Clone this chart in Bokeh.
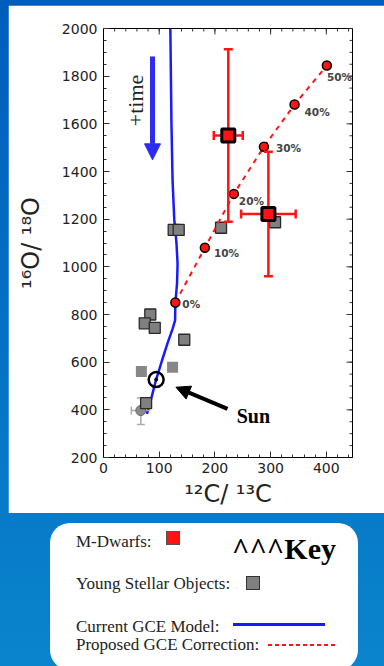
import numpy as np
from bokeh.plotting import figure
from bokeh.models import (Range1d, FixedTicker, Label, Arrow, NormalHead,
                          ColumnDataSource, Div)
from bokeh.layouts import column
from bokeh.embed import file_html
from bokeh.resources import INLINE
from bokeh.core.properties import value

# ---------------- data ----------------
# Current GCE model (blue curve)
gce_x = [78, 86, 94, 105, 115, 124, 128.5, 129, 132, 133, 131, 127, 124, 122, 120]
gce_y = [383, 450, 523, 607, 680, 740, 775, 847, 930, 1012, 1100, 1200, 1362, 1600, 2000]

# Proposed GCE correction (red dashed, with percentages)
pct_x = [129, 182, 234, 288, 343, 401]
pct_y = [850, 1080, 1306, 1504, 1681, 1845]
pct_labels = ["0%", "10%", "20%", "30%", "40%", "50%"]

# M-dwarfs (red squares with error bars)
md_x = [224, 296]
md_y = [1551, 1222]
md_xerr = [26, 49]
md_yerr = [362, 261]

# Young stellar objects (grey squares)
yso_x = [126, 135, 211, 308, 84, 74, 92, 145, 76.5]
yso_y = [1155, 1155, 1164, 1187, 800, 763, 744, 694, 428]
yso_light_x = [68, 124]
yso_light_y = [561, 579]
# YSO with error bars (grey circle)
ysoc_x = [67]
ysoc_y = [397]
ysoc_xerr = [17]
ysoc_ylo = [338]
ysoc_yhi = [450]

# Sun
sun_x = [94.5]
sun_y = [527]

x_ticks = [0, 100, 200, 300, 400]
x_minor = list(range(0, 441, 20))
y_ticks = [200, 400, 600, 800, 1000, 1200, 1400, 1600, 1800, 2000]
y_minor = list(range(200, 2001, 50))

XR = (0, 447)
YR = (200, 2000)

RED = "#ff1414"
GCE_BLUE = "#1a1aff"

# ---------------- main figure ----------------
FW, FH = 376, 508
BL, BR, BT, BB = 95, 32, 23, 56
p = figure(width=FW, height=FH, output_backend="svg", toolbar_location=None,
           x_range=Range1d(*XR), y_range=Range1d(*YR),
           min_border_left=BL, min_border_right=BR, min_border_top=BT,
           min_border_bottom=BB, background_fill_color="white",
           border_fill_color="white", outline_line_color="black",
           margin=(5, 0, 0, 8))
p.xgrid.visible = False
p.ygrid.visible = False

xt = FixedTicker(ticks=x_ticks, minor_ticks=x_minor)
yt = FixedTicker(ticks=y_ticks, minor_ticks=y_minor)


def style_axis(ax, ticker):
    ax.ticker = ticker
    ax.axis_line_color = "black"
    ax.major_tick_in = 6
    ax.major_tick_out = 0
    ax.minor_tick_in = 3
    ax.minor_tick_out = 0
    ax.major_tick_line_color = "#333"
    ax.minor_tick_line_color = "#333"
    ax.major_label_text_font = "DejaVu Sans"
    ax.major_label_text_font_size = "14px"
    ax.major_label_text_color = "#222"
    ax.axis_label_text_font = "DejaVu Sans"
    ax.axis_label_text_font_style = "normal"
    ax.axis_label_text_font_size = "24px"
    ax.axis_label_text_color = "#222"


style_axis(p.xaxis[0], xt)
style_axis(p.yaxis[0], yt)
p.xaxis[0].axis_label = "¹²C/ ¹³C"
p.yaxis[0].axis_label = "¹⁶O/ ¹⁸O"
p.xaxis[0].major_label_standoff = 5
p.xaxis[0].axis_label_standoff = 4
p.yaxis[0].major_label_standoff = 6
p.yaxis[0].axis_label_standoff = 14

# mirrored inward ticks on the top and right sides
frame_w = FW - BL - BR
frame_h = FH - BT - BB
ty_major = 6 / frame_h * (YR[1] - YR[0])
ty_minor = 3 / frame_h * (YR[1] - YR[0])
tx_major = 6 / frame_w * (XR[1] - XR[0])
tx_minor = 3 / frame_w * (XR[1] - XR[0])
p.segment(x0=x_minor, y0=[YR[1]] * len(x_minor), x1=x_minor,
          y1=[YR[1] - ty_minor] * len(x_minor), line_color="#333", line_width=1)
p.segment(x0=x_ticks, y0=[YR[1]] * len(x_ticks), x1=x_ticks,
          y1=[YR[1] - ty_major] * len(x_ticks), line_color="#333", line_width=1)
p.segment(x0=[XR[1]] * len(y_minor), y0=y_minor,
          x1=[XR[1] - tx_minor] * len(y_minor), y1=y_minor,
          line_color="#333", line_width=1)
p.segment(x0=[XR[1]] * len(y_ticks), y0=y_ticks,
          x1=[XR[1] - tx_major] * len(y_ticks), y1=y_ticks,
          line_color="#333", line_width=1)

# blue GCE model
p.line(gce_x, gce_y, line_color=GCE_BLUE, line_width=2.5)

# grey YSOs
p.scatter(yso_light_x, yso_light_y, marker="square", size=11,
          fill_color="#7a7a7a", line_color=None, fill_alpha=0.9)
ysoc_src = ColumnDataSource(dict(
    x=ysoc_x, y=ysoc_y,
    x0=[a - b for a, b in zip(ysoc_x, ysoc_xerr)],
    x1=[a + b for a, b in zip(ysoc_x, ysoc_xerr)],
    ylo=ysoc_ylo, yhi=ysoc_yhi))
p.segment(x0="x0", y0="y", x1="x1", y1="y", source=ysoc_src,
          line_color="#aaaaaa", line_width=1.5)
p.segment(x0="x", y0="ylo", x1="x", y1="yhi", source=ysoc_src,
          line_color="#aaaaaa", line_width=1.5)
for cx, cy, ang in (("x", "ylo", 0), ("x", "yhi", 0), ("x0", "y", np.pi / 2)):
    p.scatter(cx, cy, source=ysoc_src, marker="dash", size=8, angle=ang,
              line_color="#aaaaaa", line_width=1.5)
p.scatter("x", "y", source=ysoc_src, marker="circle", size=10,
          fill_color="#8a8a8a", line_color="#666", line_width=1)
p.scatter(yso_x, yso_y, marker="square", size=11, fill_color="#808080",
          line_color="#2a2a2a", line_width=1.3)

# red dashed correction
p.line(pct_x, pct_y, line_color=RED, line_width=2, line_dash="5 5")
p.scatter(pct_x, pct_y, marker="circle", size=9, fill_color=RED,
          line_color="black", line_width=1.5)
pct_dx = [7, 9, 5, 12, 10, 0]
pct_dy = [1, 5, 7, 1, 7, 12]
p.text(x=pct_x, y=pct_y, text=pct_labels, x_offset=pct_dx, y_offset=pct_dy,
       text_font=value("DejaVu Sans"), text_font_style="bold",
       text_font_size="10.5px", text_color="#444", text_baseline="middle")

# M dwarfs
md_src = ColumnDataSource(dict(
    x=md_x, y=md_y,
    x0=[a - b for a, b in zip(md_x, md_xerr)],
    x1=[a + b for a, b in zip(md_x, md_xerr)],
    y0=[a - b for a, b in zip(md_y, md_yerr)],
    y1=[a + b for a, b in zip(md_y, md_yerr)]))
p.segment(x0="x0", y0="y", x1="x1", y1="y", source=md_src,
          line_color=RED, line_width=2.5)
p.segment(x0="x", y0="y0", x1="x", y1="y1", source=md_src,
          line_color=RED, line_width=2.5)
for cx, cy, ang in (("x", "y0", 0), ("x", "y1", 0),
                    ("x0", "y", np.pi / 2), ("x1", "y", np.pi / 2)):
    p.scatter(cx, cy, source=md_src, marker="dash", size=9, angle=ang,
              line_color=RED, line_width=2.5)
p.scatter("x", "y", source=md_src, marker="square", size=13,
          fill_color=RED, line_color="black", line_width=3)

# Sun
p.scatter(sun_x, sun_y, marker="circle", size=15, fill_color=None,
          line_color="black", line_width=2.5)
p.scatter(sun_x, sun_y, marker="circle", size=3, fill_color="black",
          line_color="black")

# arrows
p.add_layout(Arrow(end=NormalHead(size=14, fill_color="black",
                                  line_color="black"),
                   x_start=222.6, y_start=404, x_end=130, y_end=495,
                   line_width=4, line_color="black"))
p.add_layout(Arrow(end=NormalHead(size=16, fill_color="#2c2cf0",
                                  line_color="#2c2cf0"),
                   x_start=88, y_start=1882, x_end=88, y_end=1449,
                   line_width=5, line_color="#2c2cf0"))

p.add_layout(Label(x=239, y=376, text="Sun", text_font="Liberation Serif",
                   text_font_style="bold", text_font_size="20px",
                   text_color="black", text_baseline="middle"))
p.add_layout(Label(x=57.5, y=1698, text="+time", angle=np.pi / 2,
                   text_font="Liberation Serif", text_font_size="22px",
                   text_color="#222", text_align="center",
                   text_baseline="middle"))
p.add_layout(Label(x=474, y=1123, text="Crossfield et al. (2019)",
                   angle=np.pi / 2, text_font="Liberation Serif",
                   text_font_size="21px", text_color="#333",
                   text_align="center", text_baseline="middle"))

# ---------------- key (HTML box below the chart) ----------------
KEY_H = 666 - 513
FONT = "'Liberation Serif', 'Times New Roman', serif"


def key_text(x, yc, text, size, bold=False, color="#222"):
    lh = size * 1.2
    weight = "bold" if bold else "normal"
    return (f'<div style="position:absolute;left:{x}px;top:{yc - lh / 2:.1f}px;'
            f'font-family:{FONT};font-size:{size}px;line-height:{lh:.1f}px;'
            f'font-weight:{weight};color:{color};white-space:nowrap;">{text}</div>')


def key_box(x, y, w, h, style):
    return (f'<div style="position:absolute;left:{x}px;top:{y}px;width:{w}px;'
            f'height:{h}px;{style}"></div>')


html = ('<div style="position:relative;width:384px;height:%dpx;overflow:hidden;">' % KEY_H
        + key_box(50, 10, 308, 147, "background:white;border-radius:20px;")
        + key_text(76, 29, "M-Dwarfs:", 17)
        + key_box(166, 18, 14, 14, f"background:{RED};border:1px solid #555;")
        + key_text(232, 36, "^^^Key", 30, bold=True, color="black")
        + key_text(76, 71, "Young Stellar Objects:", 17)
        + key_box(246, 63, 14, 14, "background:#808080;border:1px solid #333;")
        + key_text(76, 114, "Current GCE Model:", 17)
        + key_box(233, 110, 92, 3, f"background:{GCE_BLUE};")
        + key_text(76, 132, "Proposed GCE Correction:", 17)
        + key_box(268, 131, 70, 2,
                  f"background:repeating-linear-gradient(to right,{RED} 0 4px,"
                  "transparent 4px 7px);")
        + '</div>')

key = Div(text=html, width=384, height=KEY_H, margin=(0, 0, 0, 0))

layout = column(p, key, spacing=0,
                styles={"background": "linear-gradient(#005dbc, #0a84cc)"})

open("out.html", "w").write(file_html(layout, INLINE))
